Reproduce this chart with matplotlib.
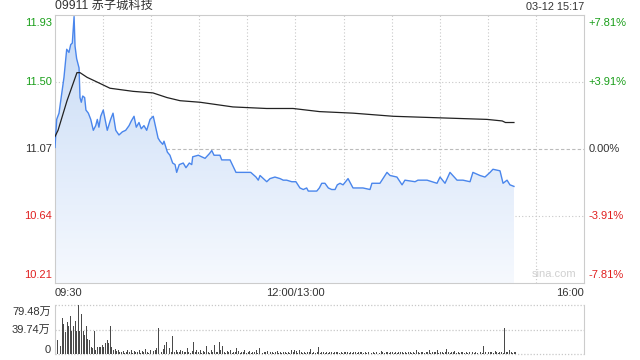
import numpy as np
import matplotlib
matplotlib.use('Agg')
import matplotlib.pyplot as plt
from matplotlib.colors import LinearSegmentedColormap

plt.rcParams['font.family'] = ['Liberation Sans', 'Noto Sans CJK SC', 'DejaVu Sans']

# ---- data (x = trading minutes after 09:30) ----
price_min = [0, 1.06, 2.5, 3.6, 5.6, 7.3, 8.7, 9.8, 10.8, 11.9, 12.5, 13.5, 15, 15.6,
             16.4, 17.3, 18.5, 19.3, 20.8, 22.3, 23.9, 25.4, 26.4, 27.4, 28.5, 30.1,
             31.6, 32.6, 34.7, 36.2, 37.9, 39.9, 42, 44.1, 46.2, 47.6, 49.3, 50.7,
             52.4, 53.8, 55.5, 57.2, 59.3, 61.3, 62.8, 64.3, 65.5, 67.2, 68, 70.1,
             71.7, 73.4, 74.9, 75.9, 77.5, 80, 81.7, 83.8, 85.3, 85.9, 89.4, 93.6,
             96.3, 97.8, 99.2, 102.9, 104, 109.2, 112.9, 119.6, 122.1, 125.4, 126.8,
             127.9, 132.1, 134.1, 137.2, 140.4, 142.4, 144.5, 147.7, 150.3, 152.8,
             154.9, 157, 158, 159.1, 163.3, 164.9, 166.4, 168.4, 170.5, 172.6, 174.7,
             176.1, 177.8, 179.7, 182.8, 185.9, 192.1, 196.5, 197.7, 202.7, 207.1,
             209, 213.3, 216.5, 218.3, 224.6, 226.4, 232.1, 238.3, 240.2, 243.3,
             246.4, 250.8, 254.5, 258.9, 260.7, 265.1, 268.2, 271.4, 273.2, 277.6,
             279.5, 282, 283.8, 286.3]
price = [11.08, 11.26, 11.30, 11.38, 11.53, 11.71, 11.69, 11.74, 11.75, 11.92, 11.73,
         11.65, 11.59, 11.40, 11.37, 11.41, 11.40, 11.32, 11.30, 11.26, 11.19, 11.22,
         11.26, 11.21, 11.28, 11.32, 11.24, 11.19, 11.26, 11.30, 11.19, 11.16, 11.18,
         11.19, 11.22, 11.25, 11.28, 11.21, 11.24, 11.20, 11.22, 11.19, 11.26, 11.28,
         11.21, 11.14, 11.12, 11.10, 11.12, 11.05, 11.03, 10.98, 10.97, 10.92, 10.97,
         10.98, 10.95, 10.98, 10.97, 11.02, 11.03, 11.01, 11.04, 11.06, 11.03, 11.03,
         11.00, 11.00, 10.92, 10.92, 10.92, 10.89, 10.87, 10.90, 10.86, 10.88, 10.89,
         10.88, 10.87, 10.87, 10.86, 10.86, 10.82, 10.81, 10.82, 10.80, 10.80, 10.80,
         10.82, 10.85, 10.85, 10.82, 10.81, 10.81, 10.84, 10.85, 10.84, 10.88, 10.82,
         10.82, 10.81, 10.85, 10.85, 10.92, 10.90, 10.89, 10.84, 10.87, 10.86, 10.87,
         10.87, 10.85, 10.89, 10.85, 10.92, 10.87, 10.87, 10.86, 10.92, 10.90, 10.89,
         10.92, 10.94, 10.93, 10.85, 10.87, 10.84, 10.83]

avg_min = [0, 1.9, 7.5, 10.6, 13.7, 15.6, 20, 26.2, 34.3, 48.7, 61.1, 69.9, 78, 90.5,
           111, 132, 148.5, 165, 186, 211, 240, 269.5, 279, 281, 286.3]
avg_price = [11.15, 11.19, 11.38, 11.47, 11.56, 11.56, 11.53, 11.50, 11.46, 11.44,
             11.43, 11.40, 11.38, 11.37, 11.34, 11.33, 11.33, 11.31, 11.30, 11.28,
             11.27, 11.26, 11.25, 11.24, 11.24]

# volume per minute, in 万
volume = [31, 22, 23, 13.5, 58, 49, 36, 52, 45, 62, 38, 46, 53, 38, 79.48, 38, 65, 38,
          31, 45, 24, 23, 12, 10, 38, 7, 12, 11, 12, 15, 12, 18, 22, 18, 45, 11, 6,
          8, 5, 6, 4, 3, 5, 2, 4, 6, 3, 7, 2, 5, 4, 3, 6, 2, 5, 3, 8, 4, 2, 6, 3, 5, 7,
          10, 41.6, 6, 3, 8, 14, 20, 6, 9, 4, 29, 4, 6,
          4, 3, 6, 5, 3, 4, 10, 3, 2, 5, 20, 4, 6, 3, 7, 2, 5, 4, 13, 3, 2, 6, 3, 15, 4,
          3, 20, 6, 13, 4, 2, 5, 3, 6, 2, 4, 3, 10, 5, 2, 4, 3, 6, 2, 3, 5, 2, 4, 3, 6,
          2, 10, 3, 2, 4, 3, 5, 2, 3, 4, 2, 3, 5, 2, 3,
          2, 3, 4, 2, 3, 2, 7, 3, 6, 5, 2, 7, 3, 2, 4, 2, 3, 3, 8.6, 2, 4, 2, 3, 12, 2,
          3, 4, 2, 3, 2, 4, 3, 2, 3, 4, 4, 2, 3, 2, 4, 3, 4, 2, 3, 2, 4, 3, 2, 3, 4, 4,
          2, 3, 2, 3, 4, 2, 3, 2, 4,
          3, 2, 5.4, 3, 2, 4, 3, 2, 4, 3, 2, 3, 2, 4, 4, 3, 2, 3, 2, 4, 3, 2, 3, 2, 7,
          3, 2, 4, 3, 2, 3, 4, 7, 2, 3, 4, 3, 7, 2, 3, 4, 2, 3, 8.6, 3, 2, 4, 3, 5, 2,
          3, 2, 4, 3, 2, 3, 2, 4, 3, 4, 2, 3, 2, 4, 3, 2, 13.5, 3, 2, 4, 3, 4, 2, 5, 3,
          2, 4, 3, 2, 42.7, 4, 3, 7, 3, 2, 4, 3]

prev_close = 11.07
price_ticks = [10.21, 10.64, 11.07, 11.50, 11.93]
pct_labels = ['-7.81%', '-3.91%', '0.00%', '+3.91%', '+7.81%']
vol_ticks = [0, 39.74, 79.48]
vol_labels = ['0', '39.74万', '79.48万']
title = '09911 赤子城科技'
stamp = '03-12 15:17'

GREEN = '#1a9f1a'
RED = '#e02020'
DARK = '#333333'
BORDER = '#cccccc'
GRID = '#c8c8c8'
FS = 8

fig = plt.figure(figsize=(6.4, 3.6), dpi=100)
ax = fig.add_axes([55 / 640, 1 - 283 / 360, 529 / 640, 268 / 360])
axv = fig.add_axes([55 / 640, 1 - 354 / 360, 529 / 640, 49 / 360])

# ---- price panel ----
ax.set_xlim(0, 330)
ax.set_ylim(price_ticks[0], price_ticks[-1])

fill = ax.fill_between(price_min, price, price_ticks[0], color='none', lw=0)
cmap = LinearSegmentedColormap.from_list('g', ['#f6f9fe', '#c6daf6'])
grad = np.linspace(0, 1, 256).reshape(-1, 1)
img = ax.imshow(grad, cmap=cmap, origin='lower', aspect='auto',
                extent=[0, 330, price_ticks[0], price_ticks[-1]], zorder=1)
img.set_clip_path(fill.get_paths()[0], transform=ax.transData)

ax.plot(price_min, price, color='#4a86ec', lw=1.0, zorder=3)
ax.plot(avg_min, avg_price, color='#222222', lw=0.9, zorder=3)

for t in range(30, 330, 30):
    ax.axvline(t, color=GRID, lw=0.8, ls=(0, (1, 2)), zorder=0)
for p in price_ticks[1:-1]:
    if p == prev_close:
        ax.axhline(p, color='#bbbbbb', lw=0.8, ls=(0, (3, 2)), zorder=0)
    else:
        ax.axhline(p, color=GRID, lw=0.8, ls=(0, (1, 2)), zorder=0)

for s in ax.spines.values():
    s.set_color(BORDER)
    s.set_linewidth(0.8)
ax.set_xticks([])
ax.set_yticks([])

# left / right labels
cols = [RED, RED, DARK, GREEN, GREEN]
offs = [0.028, 0, 0, 0, -0.028]
for p, c, o, pl in zip(price_ticks, cols, offs, pct_labels):
    yy = (p - price_ticks[0]) / (price_ticks[-1] - price_ticks[0]) + o
    ax.text(-0.006, yy, f'{p:.2f}', transform=ax.transAxes, ha='right',
            va='center', color=c, fontsize=FS)
    ax.text(1.008, yy, pl, transform=ax.transAxes, ha='left', va='center',
            color=c, fontsize=FS)

ax.text(0, 1.012, title, transform=ax.transAxes, ha='left', va='bottom',
        fontsize=8.8, color=DARK)
ax.text(1, 1.012, stamp, transform=ax.transAxes, ha='right', va='bottom',
        fontsize=7.8, color=DARK)
ax.text(0.985, 0.015, 'sina.com', transform=ax.transAxes, ha='right', va='bottom',
        fontsize=FS, color='#d0d0d0')

# time labels
ax.text(0, -0.02, '09:30', transform=ax.transAxes, ha='left', va='top',
        fontsize=FS, color=DARK)
ax.text(150 / 330, -0.02, '12:00/13:00', transform=ax.transAxes, ha='center',
        va='top', fontsize=FS, color=DARK)
ax.text(1, -0.02, '16:00', transform=ax.transAxes, ha='right', va='top',
        fontsize=FS, color=DARK)

# ---- volume panel ----
axv.set_xlim(0, 330)
axv.set_ylim(0, vol_ticks[-1])
axv.bar(np.arange(len(volume)) + 0.5, volume, width=0.6, color='#4a4a4a', lw=0)
for v in vol_ticks:
    axv.axhline(v, color=GRID, lw=0.9, ls=(0, (1, 1.5)), zorder=0, clip_on=False)
for k in ['top', 'bottom']:
    axv.spines[k].set_visible(False)
for k in ['left', 'right']:
    axv.spines[k].set_color(BORDER)
    axv.spines[k].set_linewidth(0.8)
axv.set_xticks([])
axv.set_yticks([])
voffs = [0.09, 0, -0.14]
for v, lab, o in zip(vol_ticks, vol_labels, voffs):
    axv.text(-0.008, v / vol_ticks[-1] + o, lab, transform=axv.transAxes,
             ha='right', va='center', fontsize=FS, color=DARK)

fig.savefig('out.png', dpi=100)
